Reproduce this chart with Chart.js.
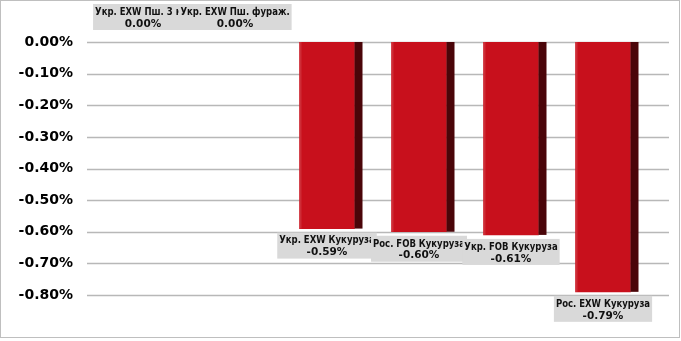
<!DOCTYPE html>
<html>
<head>
<meta charset="utf-8">
<script src="https://cdn.jsdelivr.net/npm/chart.js@4.4.1/dist/chart.umd.min.js"></script>
<style>
  html, body { margin: 0; padding: 0; background: #fff; }
  #wrap { width: 681px; height: 341px; position: relative; }
</style>
</head>
<body>
<div id="wrap"><canvas id="chart"></canvas></div>
<script>
// price changes, %
const categories = [
  "Укр. EXW Пш. 3 кл.",
  "Укр. EXW Пш. фураж.",
  "Укр. EXW Кукуруза",
  "Рос. FOB Кукуруза",
  "Укр. FOB Кукуруза",
  "Рос. EXW Кукуруза"
];
const changes = [0, 0, -0.59, -0.60, -0.61, -0.79];
const yMin = -0.8;
const yMax = 0;
const yStep = 0.1;

const fmt = v => (Math.abs(v) < 1e-9 ? 0 : v).toFixed(2) + "%";
const NAME_FONT = "bold 11px 'DejaVu Sans Condensed'";
const NUM_FONT = "bold 10.5px 'DejaVu Sans'";
const SQUEEZE = 0.86;

// horizontal grid lines, a bit wider than the plot like the 3D back wall
const gridLines = {
  id: "gridLines",
  beforeDatasetsDraw(chart) {
    const ctx = chart.ctx;
    const y = chart.scales.y;
    ctx.save();
    ctx.strokeStyle = "#b8b8b8";
    ctx.lineWidth = 1.5;
    y.ticks.forEach(t => {
      const py = Math.round(y.getPixelForValue(t.value)) + 0.5;
      ctx.beginPath();
      ctx.moveTo(87, py);
      ctx.lineTo(669, py);
      ctx.stroke();
    });
    ctx.restore();
  }
};

// dark side face + value boxes
const barExtras = {
  id: "barExtras",
  afterDatasetsDraw(chart) {
    const ctx = chart.ctx;
    const meta = chart.getDatasetMeta(0);
    ctx.save();
    meta.data.forEach((el, i) => {
      if (changes[i] === 0) return;
      const right = el.x + el.width / 2;
      ctx.fillStyle = "#4a0509";
      ctx.fillRect(right, el.base, 8, el.y - el.base);
      ctx.fillStyle = "rgba(255,255,255,0.12)";
      ctx.fillRect(el.x - el.width / 2, el.base, 2, el.y - el.base);
    });

    const h = 26;
    meta.data.forEach((el, i) => {
      ctx.font = NAME_FONT;
      const nameW = ctx.measureText(categories[i]).width * SQUEEZE;
      ctx.font = NUM_FONT;
      const numW = ctx.measureText(fmt(changes[i])).width;
      const w = Math.max(nameW, numW) + 4;
      const top = changes[i] === 0 ? el.base - 12 - h : el.y + 4;
      const left = el.x - w / 2;
      ctx.fillStyle = "#d9d9d9";
      ctx.fillRect(left, top, w, h);
      ctx.fillStyle = "#111";
      ctx.textAlign = "center";
      ctx.textBaseline = "middle";
      ctx.save();
      ctx.translate(el.x, top + 8);
      ctx.scale(SQUEEZE, 1);
      ctx.font = NAME_FONT;
      ctx.fillText(categories[i], 0, 0);
      ctx.restore();
      ctx.font = NUM_FONT;
      ctx.fillText(fmt(changes[i]), el.x, top + 20);
    });
    ctx.restore();
  },
  afterDraw(chart) {
    const ctx = chart.ctx;
    ctx.save();
    ctx.strokeStyle = "#bfbfbf";
    ctx.lineWidth = 1;
    ctx.strokeRect(0.5, 0.5, 679, 337);
    ctx.restore();
  }
};

new Chart(document.getElementById("chart"), {
  type: "bar",
  data: {
    labels: categories,
    datasets: [{
      data: changes,
      backgroundColor: changes.map(v => v === 0 ? "rgba(0,0,0,0)" : "#c8101c"),
      borderWidth: 0,
      barThickness: 55
    }]
  },
  options: {
    responsive: true,
    maintainAspectRatio: false,
    animation: false,
    layout: { padding: { top: 42, bottom: 46, left: 0, right: 32 } },
    plugins: { legend: { display: false }, tooltip: { enabled: false } },
    scales: {
      x: { display: false },
      y: {
        min: yMin,
        max: yMax,
        afterFit(scale) { scale.width = 97; },
        grid: { display: false, drawTicks: false },
        border: { display: false },
        ticks: {
          stepSize: yStep,
          padding: 24,
          color: "#000",
          font: { family: "'DejaVu Sans'", weight: "bold", size: 14 },
          callback: v => fmt(v)
        }
      }
    }
  },
  plugins: [gridLines, barExtras]
});
</script>
</body>
</html>
